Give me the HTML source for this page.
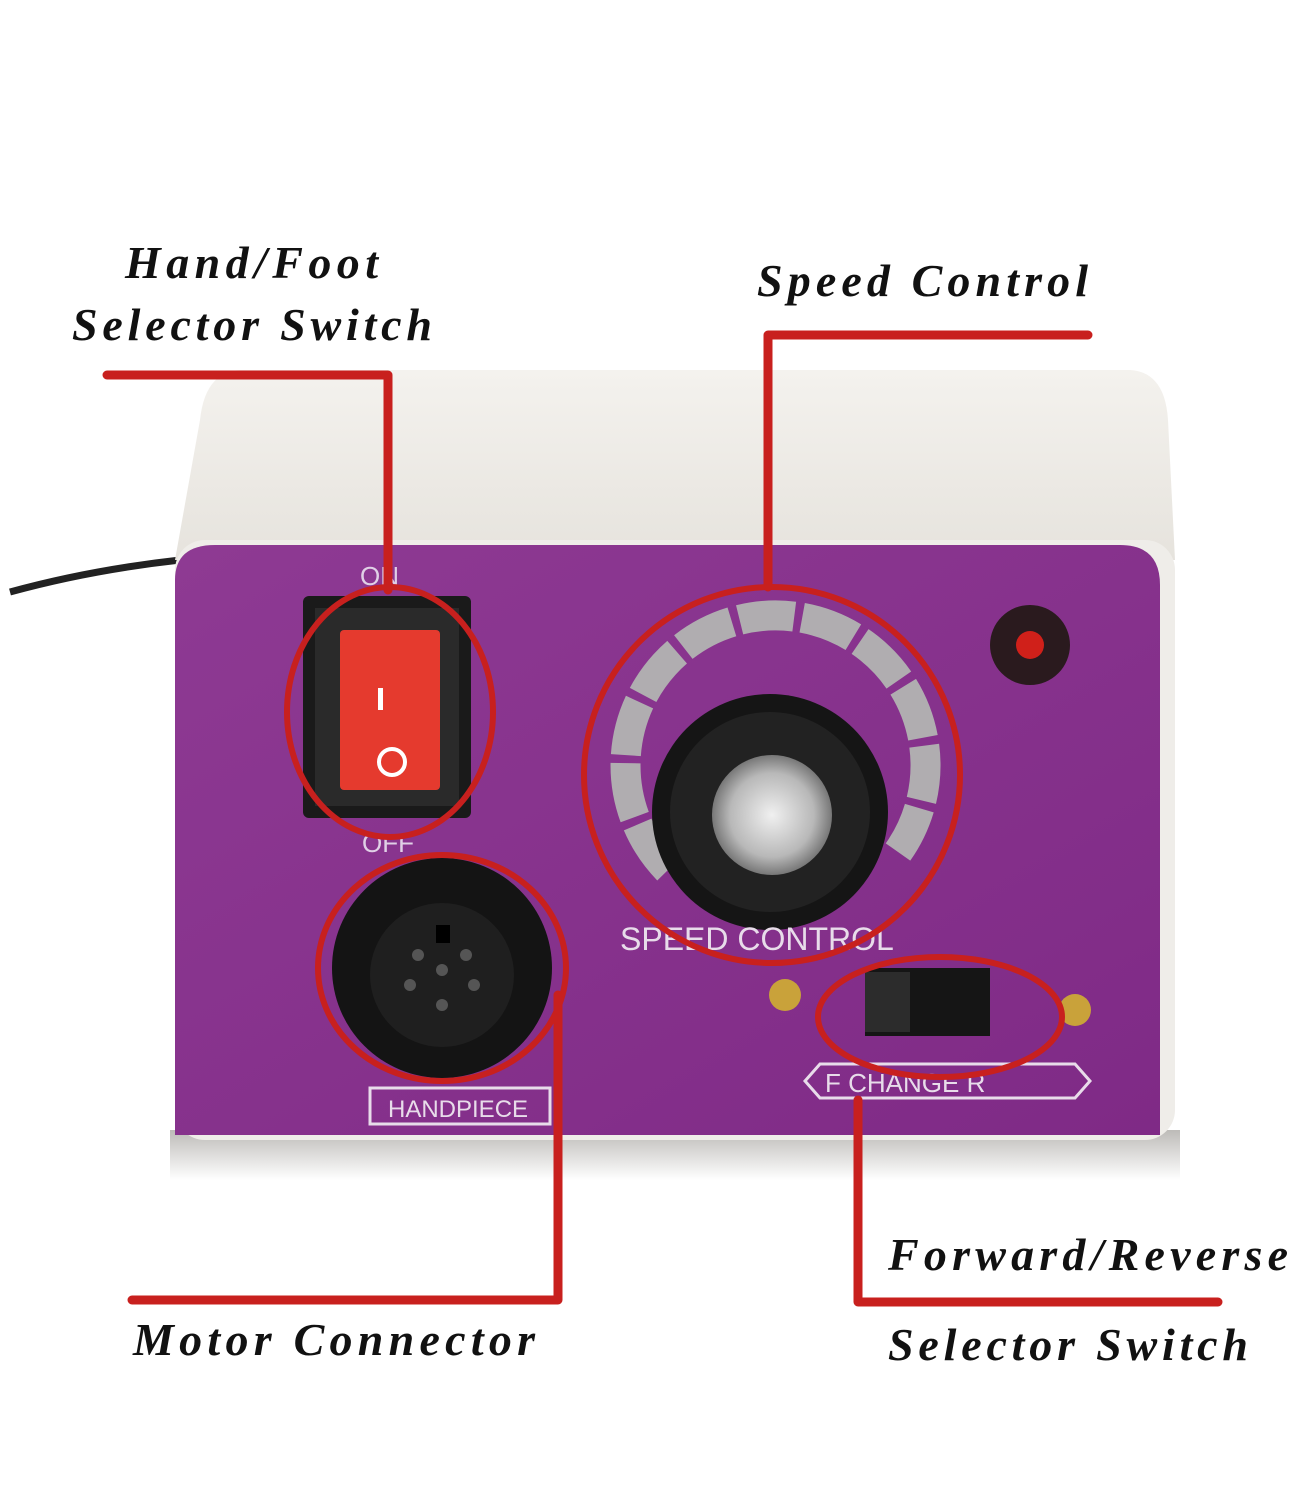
<!DOCTYPE html>
<html><head><meta charset="utf-8"><style>
html,body{margin:0;padding:0;background:#fff;}
svg{display:block;}
.lbl{font-family:"Liberation Serif",serif;font-style:italic;font-weight:bold;font-size:46px;fill:#111;}
</style></head><body>
<svg width="1290" height="1500" viewBox="0 0 1290 1500" xmlns="http://www.w3.org/2000/svg">
<defs>
<linearGradient id="top" x1="0" y1="0" x2="0" y2="1"><stop offset="0" stop-color="#f4f2ee"/><stop offset="1" stop-color="#e6e3dd"/></linearGradient>
<linearGradient id="sh" x1="0" y1="0" x2="0" y2="1"><stop offset="0" stop-color="#bdbbb8"/><stop offset="1" stop-color="#fff"/></linearGradient>
<radialGradient id="cap" cx="0.5" cy="0.5" r="0.5"><stop offset="0" stop-color="#f0f0f0"/><stop offset="0.7" stop-color="#b8b8b8"/><stop offset="1" stop-color="#777"/></radialGradient>
<linearGradient id="purp" x1="0" y1="0" x2="1" y2="1"><stop offset="0" stop-color="#8e3a93"/><stop offset="1" stop-color="#7f2a86"/></linearGradient>
</defs>
<rect x="170" y="1130" width="1010" height="50" fill="url(#sh)"/>
<path d="M10 592 Q90 570 180 560" stroke="#222" stroke-width="7" fill="none"/>
<path d="M240 370 L1130 370 Q1165 372 1168 420 L1175 560 L175 560 L200 420 Q205 372 240 370 Z" fill="url(#top)"/>
<rect x="175" y="540" width="1000" height="600" rx="30" fill="#efede9"/>
<path d="M175 1135 L175 580 Q175 545 215 545 L1120 545 Q1160 545 1160 585 L1160 1135 Z" fill="url(#purp)"/>
<rect x="303" y="596" width="168" height="222" rx="6" fill="#1a1a1a"/>
<rect x="315" y="608" width="144" height="198" fill="#2a2a2a"/>
<rect x="340" y="630" width="100" height="160" rx="4" fill="#e53a2e"/>
<rect x="378" y="688" width="5" height="22" fill="#fff"/>
<circle cx="392" cy="762" r="13" stroke="#fff" stroke-width="4" fill="none"/>
<text x="360" y="585" font-family="Liberation Sans,sans-serif" font-size="26" fill="#e0d0e6">ON</text>
<text x="362" y="852" font-family="Liberation Sans,sans-serif" font-size="26" fill="#e0d0e6">OFF</text>
<path d="M668 870 A150 150 0 1 1 898 852" stroke="#b0adb0" stroke-width="30" fill="none" stroke-dasharray="55 8"/>
<circle cx="770" cy="812" r="118" fill="#151515"/>
<circle cx="770" cy="812" r="100" fill="#222"/>
<circle cx="772" cy="815" r="60" fill="url(#cap)"/>
<text x="620" y="950" font-family="Liberation Sans,sans-serif" font-size="32" fill="#e8dcea">SPEED CONTROL</text>
<circle cx="1030" cy="645" r="40" fill="#2a1a1e"/>
<circle cx="1030" cy="645" r="14" fill="#d0201a"/>
<circle cx="442" cy="968" r="110" fill="#141414"/>
<circle cx="442" cy="975" r="72" fill="#1f1f1f"/>
<g fill="#555"><circle cx="442" cy="1005" r="6"/><circle cx="410" cy="985" r="6"/><circle cx="474" cy="985" r="6"/><circle cx="418" cy="955" r="6"/><circle cx="466" cy="955" r="6"/><circle cx="442" cy="970" r="6"/></g>
<rect x="436" y="925" width="14" height="18" fill="#000"/>
<rect x="370" y="1088" width="180" height="36" fill="none" stroke="#e8dcea" stroke-width="3"/>
<text x="388" y="1117" font-family="Liberation Sans,sans-serif" font-size="24" fill="#e8dcea">HANDPIECE</text>
<rect x="865" y="968" width="125" height="68" fill="#151515"/>
<rect x="865" y="972" width="45" height="60" fill="#2c2c2c"/>
<circle cx="785" cy="995" r="16" fill="#c9a23a"/><circle cx="1075" cy="1010" r="16" fill="#c9a23a"/>
<path d="M820 1064 L1075 1064 L1090 1081 L1075 1098 L820 1098 L805 1081 Z" fill="none" stroke="#e8dcea" stroke-width="3"/>
<text x="825" y="1092" font-family="Liberation Sans,sans-serif" font-size="26" fill="#e8dcea">F  CHANGE  R</text>
<g stroke="#c8201e" stroke-width="6" fill="none">
<ellipse cx="390" cy="712" rx="103" ry="125"/>
<circle cx="772" cy="775" r="188"/>
<ellipse cx="442" cy="968" rx="124" ry="113"/>
<ellipse cx="940" cy="1017" rx="122" ry="60"/>
</g>
<g stroke="#c8201e" stroke-width="9" fill="none" stroke-linecap="round" stroke-linejoin="round">
<path d="M107 375 L388 375 L388 590"/>
<path d="M1088 335 L768 335 L768 587"/>
<path d="M132 1300 L558 1300 L558 995"/>
<path d="M858 1100 L858 1302 L1218 1302"/>
</g>
<text class="lbl" x="125" y="278" textLength="253" lengthAdjust="spacing">Hand/Foot</text>
<text class="lbl" x="72" y="340" textLength="360" lengthAdjust="spacing">Selector Switch</text>
<text class="lbl" x="757" y="296" textLength="331" lengthAdjust="spacing">Speed Control</text>
<text class="lbl" x="133" y="1355" textLength="402" lengthAdjust="spacing">Motor Connector</text>
<text class="lbl" x="888" y="1270" textLength="400" lengthAdjust="spacing">Forward/Reverse</text>
<text class="lbl" x="888" y="1360" textLength="360" lengthAdjust="spacing">Selector Switch</text>
</svg>
</body></html>
